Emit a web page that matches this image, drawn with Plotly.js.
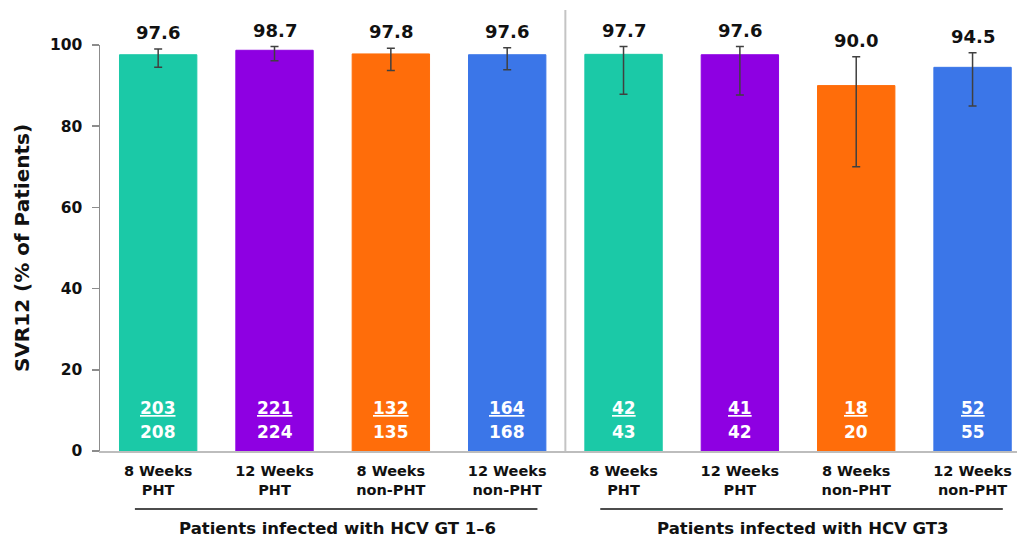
<!DOCTYPE html>
<html>
<head>
<meta charset="utf-8">
<script src="https://cdn.plot.ly/plotly-3.0.1.min.js"></script>
<style>html,body{margin:0;padding:0;background:#fff;}#chart{width:1017px;height:538px;}</style>
</head>
<body>
<div id="chart"></div>
<script>
// ---- data ----
var categories = ["8 Weeks<br>PHT", "12 Weeks<br>PHT", "8 Weeks<br>non-PHT", "12 Weeks<br>non-PHT",
                  "8 Weeks<br>PHT", "12 Weeks<br>PHT", "8 Weeks<br>non-PHT", "12 Weeks<br>non-PHT"];
var svr12 = [97.6, 98.7, 97.8, 97.6, 97.7, 97.6, 90.0, 94.5];
var ciLower = [94.5, 96.1, 93.7, 93.9, 87.9, 87.7, 70.0, 85.0];
var ciUpper = [99.0, 99.6, 99.2, 99.3, 99.6, 99.6, 97.1, 98.1];
var responders = [203, 221, 132, 164, 42, 41, 18, 52];
var totals = [208, 224, 135, 168, 43, 42, 20, 55];
var barColors = ["#1BC9A7", "#8E00E2", "#FF6D0A", "#3B76E8", "#1BC9A7", "#8E00E2", "#FF6D0A", "#3B76E8"];
var groupLabels = ["Patients infected with HCV GT 1\u20136", "Patients infected with HCV GT3"];
var groupStart = [0, 4];
var groupEnd = [3, 7];
var yTickVals = [0, 20, 40, 60, 80, 100];

// ---- build ----
var FONT = "DejaVu Sans, Liberation Sans, Arial, sans-serif";
var idx = categories.map(function (_, i) { return i; });

var trace = {
  type: "bar",
  x: idx,
  y: svr12,
  width: 0.665,
  marker: { color: barColors, line: { color: barColors, width: 1 } },
  error_y: {
    type: "data",
    symmetric: false,
    array: svr12.map(function (v, i) { return +(ciUpper[i] - v).toFixed(2); }),
    arrayminus: svr12.map(function (v, i) { return +(v - ciLower[i]).toFixed(2); }),
    color: "#404040",
    thickness: 1.5,
    width: 4
  },
  hoverinfo: "skip",
  showlegend: false
};

var annotations = [];
idx.forEach(function (i) {
  annotations.push({
    x: i, y: ciUpper[i], xref: "x", yref: "y",
    text: "<b>" + svr12[i].toFixed(1) + "</b>",
    showarrow: false, yanchor: "bottom", yshift: 4,
    font: { family: FONT, size: 18, color: "#111111" }
  });
  annotations.push({
    x: i, y: 10.6, xref: "x", yref: "y",
    text: "<b><u>" + responders[i] + "</u></b>",
    showarrow: false, yanchor: "middle",
    font: { family: FONT, size: 17, color: "#ffffff" }
  });
  annotations.push({
    x: i, y: 4.7, xref: "x", yref: "y",
    text: "<b>" + totals[i] + "</b>",
    showarrow: false, yanchor: "middle",
    font: { family: FONT, size: 17, color: "#ffffff" }
  });
});

var shapes = [{
  type: "line", xref: "x", yref: "paper",
  x0: 3.5, x1: 3.5, y0: 0, y1: 1.086,
  line: { color: "#c4c4c4", width: 2 }
}];

groupLabels.forEach(function (g, k) {
  shapes.push({
    type: "line", xref: "x", yref: "paper",
    x0: groupStart[k] - 0.2, x1: groupEnd[k] + 0.26, y0: -0.143, y1: -0.143,
    line: { color: "#111111", width: 1.5 }
  });
  annotations.push({
    x: (groupStart[k] + groupEnd[k]) / 2 + 0.04, y: -0.19, xref: "x", yref: "paper",
    text: "<b>" + g + "</b>", showarrow: false, yanchor: "middle",
    font: { family: FONT, size: 16.5, color: "#111111" }
  });
});

var layout = {
  width: 1017, height: 538,
  margin: { l: 100, r: 0, t: 45, b: 87 },
  paper_bgcolor: "#ffffff", plot_bgcolor: "#ffffff",
  font: { family: FONT, color: "#111111" },
  xaxis: {
    range: [-0.5, 7.382],
    tickmode: "array",
    tickvals: idx,
    ticktext: categories.map(function (c) { return "<b>" + c + "</b>"; }),
    tickfont: { family: FONT, size: 14.5, color: "#111111" },
    ticklabelstandoff: 6,
    showline: true, linecolor: "#bdbdbd", linewidth: 1.5,
    ticks: "", showgrid: false, zeroline: false, fixedrange: true
  },
  yaxis: {
    range: [0, 100],
    tickmode: "array",
    tickvals: yTickVals,
    ticktext: yTickVals.map(function (v) { return "<b>" + v + "</b>"; }),
    tickfont: { family: FONT, size: 15.5, color: "#111111" },
    ticks: "outside", ticklen: 7, tickwidth: 1.5, tickcolor: "#8c8c8c",
    ticklabelstandoff: 6,
    showline: true, linecolor: "#8c8c8c", linewidth: 1.5,
    showgrid: false, zeroline: false, fixedrange: true,
    title: { text: "<b>SVR12 (% of Patients)</b>", font: { family: FONT, size: 20, color: "#111111" }, standoff: 15 }
  },
  annotations: annotations,
  shapes: shapes,
  showlegend: false
};

Plotly.newPlot("chart", [trace], layout, { displayModeBar: false, staticPlot: true });
</script>
</body>
</html>
